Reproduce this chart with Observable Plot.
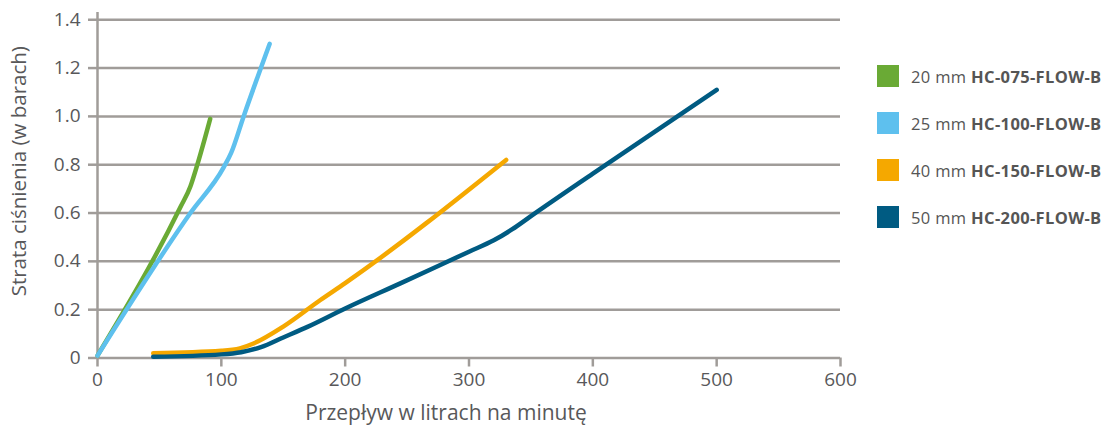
<!DOCTYPE html>
<html>
<head>
<meta charset="utf-8">
<script src="https://cdn.jsdelivr.net/npm/d3@7"></script>
<script src="https://cdn.jsdelivr.net/npm/@observablehq/plot@0.6"></script>
<style>
  html, body { margin: 0; padding: 0; background: #fff; }
  #wrap { position: relative; width: 1107px; height: 427px; font-family: "Open Sans", sans-serif; }
  #legend { position: absolute; left: 877px; top: 65px; }
  .item { display: flex; align-items: center; height: 22px; margin-bottom: 25px; font-size: 16.5px; letter-spacing: 0.35px; color: #555; white-space: nowrap; }
  .sw { width: 22px; height: 22px; margin-right: 12px; flex: none; }
  .item b { font-weight: 700; }
</style>
</head>
<body>
<div id="wrap"><div id="legend"></div></div>
<script>
// ---- data ----
const seriesSize = ["20 mm", "25 mm", "40 mm", "50 mm"];
const seriesModel = ["HC-075-FLOW-B", "HC-100-FLOW-B", "HC-150-FLOW-B", "HC-200-FLOW-B"];
const seriesColor = ["#6aaa35", "#5ec0ee", "#f5a800", "#005b82"];

const flow20 = [0, 67, 75, 80, 91];
const loss20 = [0.01, 0.625, 0.71, 0.79, 0.99];

const flow25 = [0, 75, 102, 108, 118, 139];
const loss25 = [0.01, 0.6, 0.79, 0.85, 1.0, 1.3];

const flow40 = [45, 100, 115, 126, 150, 180, 200, 330];
const loss40 = [0.02, 0.03, 0.04, 0.06, 0.13, 0.24, 0.31, 0.82];

const flow50 = [45, 100, 116, 132, 150, 170, 200, 245, 300, 320, 335, 350, 400, 500];
const loss50 = [0.005, 0.015, 0.024, 0.045, 0.085, 0.13, 0.205, 0.31, 0.44, 0.487, 0.533, 0.587, 0.763, 1.11];

const xTicks = [0, 100, 200, 300, 400, 500, 600];
const xTickLabels = ["0", "100", "200", "300", "400", "500", "600"];
const yTicks = [0, 0.2, 0.4, 0.6, 0.8, 1.0, 1.2, 1.4];
const yTickLabels = ["0", "0.2", "0.4", "0.6", "0.8", "1.0", "1.2", "1.4"];
const xLabel = "Przepływ w litrach na minutę";
const yLabel = "Strata ciśnienia (w barach)";

// ---- build table ----
const flows = [flow20, flow25, flow40, flow50];
const losses = [loss20, loss25, loss40, loss50];
const rows = [];
flows.forEach((fl, i) => fl.forEach((f, j) => rows.push({series: seriesModel[i], flow: f, loss: losses[i][j]})));

const grid = "#a09c99";
const txt = "#58585a";

const chart = Plot.plot({
  width: 1107,
  height: 427,
  marginLeft: 97,
  marginRight: 267,
  marginTop: 12,
  marginBottom: 69.5,
  style: {fontFamily: "'Open Sans', sans-serif", color: txt, background: "transparent"},
  x: {domain: [0, 600]},
  y: {domain: [0, 1.43]},
  color: {domain: seriesModel, range: seriesColor},
  marks: [
    Plot.ruleY(yTicks, {stroke: grid, strokeWidth: 2.5}),
    Plot.ruleX([0], {y1: 0, y2: 1.43, stroke: grid, strokeWidth: 2.5}),
    Plot.axisY({ticks: yTicks, tickFormat: () => "", tickSize: 9, stroke: grid, strokeWidth: 2.5, strokeOpacity: 1, label: null}),
    Plot.axisX({ticks: xTicks, tickFormat: () => "", tickSize: 9, stroke: grid, strokeWidth: 2.5, strokeOpacity: 1, label: null}),
    Plot.text(yTicks, {y: d => d, text: (d, i) => yTickLabels[i], frameAnchor: "left", textAnchor: "end", lineAnchor: "middle", dx: -17, fill: txt, fontSize: 19}),
    Plot.text(xTicks, {x: d => d, text: (d, i) => xTickLabels[i], frameAnchor: "bottom", textAnchor: "middle", lineAnchor: "top", dy: 14, fill: txt, fontSize: 19}),
    Plot.line(rows, {x: "flow", y: "loss", z: "series", stroke: "series", strokeWidth: 4.5, curve: "monotone-x", strokeLinecap: "round"}),
    Plot.text([xLabel], {frameAnchor: "bottom", lineAnchor: "middle", textAnchor: "middle", dx: -23, dy: 55, fill: txt, fontSize: 21}),
    Plot.text([yLabel], {frameAnchor: "left", rotate: -90, textAnchor: "middle", lineAnchor: "middle", dx: -78, dy: -14, fill: txt, fontSize: 20.5})
  ]
});
document.getElementById("wrap").prepend(chart);
chart.style.position = "absolute";
chart.style.left = "0";
chart.style.top = "0";

const legend = document.getElementById("legend");
seriesModel.forEach((m, i) => {
  const it = document.createElement("div");
  it.className = "item";
  const sw = document.createElement("span");
  sw.className = "sw";
  sw.style.background = seriesColor[i];
  const t = document.createElement("span");
  t.innerHTML = seriesSize[i] + " <b>" + m + "</b>";
  it.appendChild(sw);
  it.appendChild(t);
  legend.appendChild(it);
});
</script>
</body>
</html>
